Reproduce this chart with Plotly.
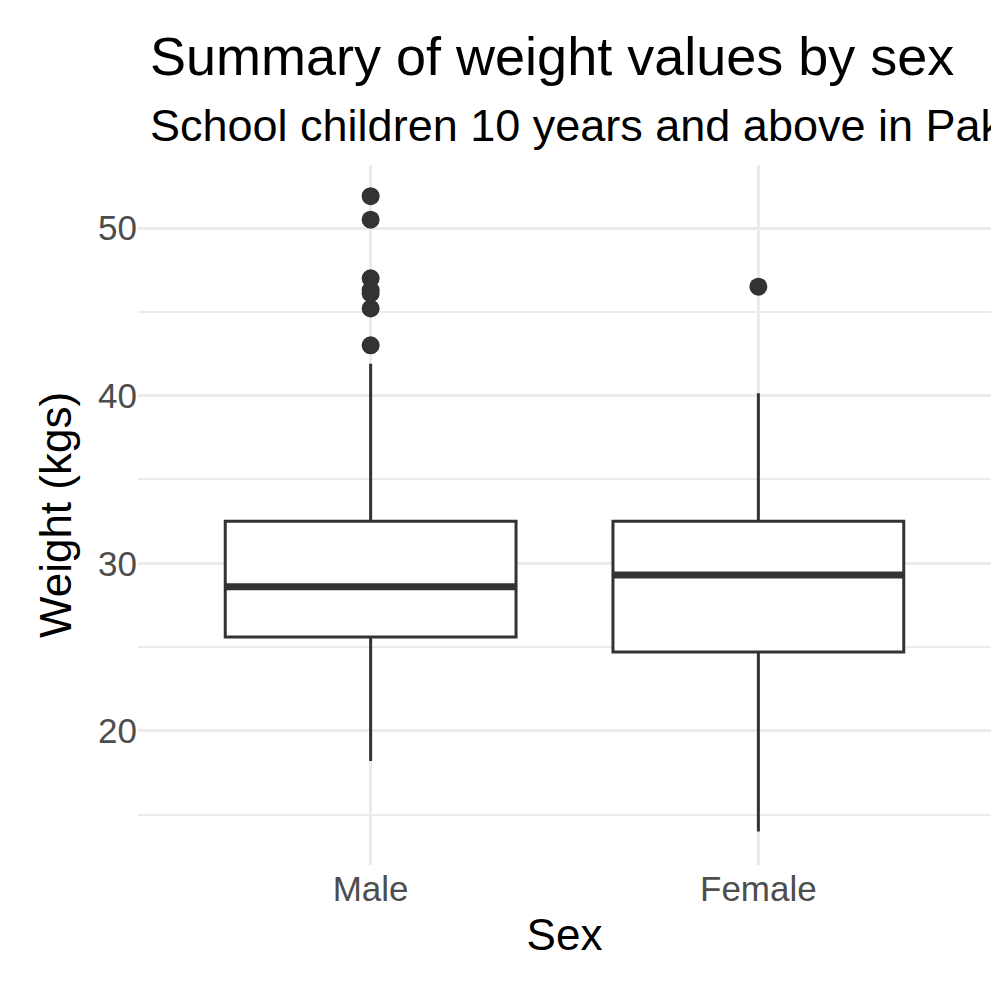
import plotly.graph_objects as go

sexes = ["Male", "Female"]
q1 = [25.6, 24.7]
median = [28.6, 29.3]
q3 = [32.5, 32.5]
lower = [18.2, 14.0]
upper = [41.9, 40.15]
out_x = ["Male"]*7 + ["Female"]
out_y = [51.9, 50.5, 47.0, 46.3, 46.1, 45.2, 43.0, 46.5]

fig = go.Figure()
fig.add_trace(go.Box(x=sexes, q1=q1, median=median, q3=q3, lowerfence=lower, upperfence=upper,
                     fillcolor="white", line=dict(color="#333333", width=3), whiskerwidth=0,
                     width=0.75, boxpoints=False, showlegend=False))
fig.add_trace(go.Scatter(x=out_x, y=out_y, mode="markers",
                         marker=dict(color="#333333", size=18), showlegend=False))
for i, m in enumerate(median):
    fig.add_shape(type="line", xref="x", yref="y", x0=i-0.375, x1=i+0.375, y0=m, y1=m,
                  line=dict(color="#333333", width=7))
fig.add_annotation(text="Summary of weight values by sex", xref="paper", yref="paper",
                   x=0.012, y=1.156, xanchor="left", yanchor="middle", showarrow=False,
                   font=dict(size=54, color="black"))
fig.add_annotation(text="School children 10 years and above in Pak", xref="paper", yref="paper",
                   x=0.012, y=1.056, xanchor="left", yanchor="middle", showarrow=False,
                   font=dict(size=45, color="black"))
fig.update_layout(
    width=999, height=999, plot_bgcolor="white", paper_bgcolor="white",
    font=dict(family="Liberation Sans", color="black"),
    margin=dict(l=130, r=16, t=157, b=142),
    xaxis=dict(range=[-0.6, 1.6], showgrid=True, gridcolor="#EBEBEB", gridwidth=3, ticks="",
               tickfont=dict(size=35, color="#4D4D4D"), title=dict(text="Sex", font=dict(size=44), standoff=12),
               zeroline=False),
    yaxis=dict(range=[12.0, 53.76], tickvals=[20, 30, 40, 50], showgrid=True, gridcolor="#EBEBEB", gridwidth=3,
               minor=dict(tickvals=[15, 25, 35, 45], showgrid=True, gridcolor="#EBEBEB", gridwidth=1.5),
               ticks="", tickfont=dict(size=35, color="#4D4D4D"),
               title=dict(text="Weight (kgs)", font=dict(size=44), standoff=12), zeroline=False),
)
fig.write_html("out.html")
